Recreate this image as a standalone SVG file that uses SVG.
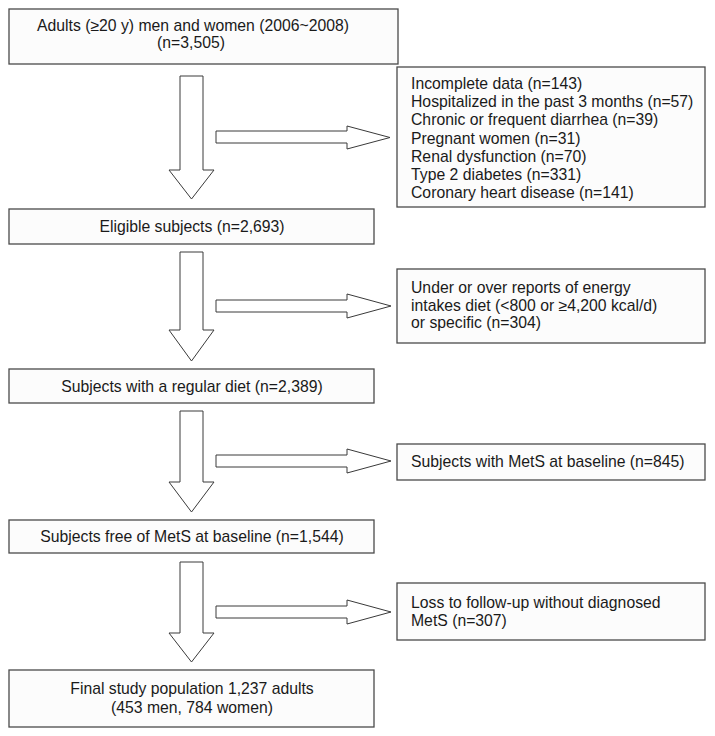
<svg xmlns="http://www.w3.org/2000/svg" width="715" height="736" viewBox="0 0 715 736">
<style>
.box{fill:#fcfcfc;stroke:#4a4a4a;stroke-width:1.3}
.arr{fill:#ffffff;stroke:#3a3a3a;stroke-width:1}
text{font-family:"Liberation Sans",Arial,sans-serif;font-size:15.75px;fill:#1a1a1a}
.c{text-anchor:middle}
</style>
<rect width="715" height="736" fill="#ffffff"/>
<g id="connectors">
<polygon class="arr" points="180,76 203,76 203,170 214,170 191.5,199 169,170 180,170"/>
<polygon class="arr" points="180,252 203,252 203,330 214,330 191.5,361 169,330 180,330"/>
<polygon class="arr" points="180,411 203,411 203,482 214,482 191.5,512 169,482 180,482"/>
<polygon class="arr" points="180,562 203,562 203,633 214,633 191.5,662 169,633 180,633"/>
<polygon class="arr" points="216,131 347,131 347,126 390,137.5 347,149 347,143 216,143"/>
<polygon class="arr" points="216,300 347,300 347,294 391,306 347,318 347,312 216,312"/>
<polygon class="arr" points="216,455 347,455 347,449 391,461 347,473 347,467 216,467"/>
<polygon class="arr" points="216,606 347,606 347,600 391,612 347,624 347,618 216,618"/>
</g>
<g id="n1"><rect class="box" x="9" y="9" width="389" height="55"/>
<text class="c" x="193" y="31">Adults (≥20 y) men and women (2006~2008)</text>
<text class="c" x="191" y="48">(n=3,505)</text></g>
<g id="n2"><rect class="box" x="9" y="209" width="365" height="35"/>
<text class="c" x="192" y="232">Eligible subjects (n=2,693)</text></g>
<g id="n3"><rect class="box" x="9" y="369" width="365" height="34"/>
<text class="c" x="192" y="391.5">Subjects with a regular diet (n=2,389)</text></g>
<g id="n4"><rect class="box" x="9" y="520" width="365" height="33"/>
<text class="c" x="192" y="542">Subjects free of MetS at baseline (n=1,544)</text></g>
<g id="n5"><rect class="box" x="9" y="670" width="365" height="57"/>
<text class="c" x="192" y="694">Final study population 1,237 adults</text>
<text class="c" x="192" y="712.5">(453 men, 784 women)</text></g>
<g id="e1"><rect class="box" x="397" y="67" width="308" height="140"/>
<text x="411" y="89">Incomplete data (n=143)</text>
<text x="411" y="107.2">Hospitalized in the past 3 months (n=57)</text>
<text x="411" y="125.3">Chronic or frequent diarrhea (n=39)</text>
<text x="411" y="143.5">Pregnant women (n=31)</text>
<text x="411" y="161.7">Renal dysfunction (n=70)</text>
<text x="411" y="179.8">Type 2 diabetes (n=331)</text>
<text x="411" y="198">Coronary heart disease (n=141)</text></g>
<g id="e2"><rect class="box" x="397" y="269" width="308" height="74"/>
<text x="411" y="293">Under or over reports of energy</text>
<text x="411" y="310.5">intakes diet (&lt;800 or ≥4,200 kcal/d)</text>
<text x="411" y="328">or specific (n=304)</text></g>
<g id="e3"><rect class="box" x="397" y="444" width="308" height="36"/>
<text x="411" y="467">Subjects with MetS at baseline (n=845)</text></g>
<g id="e4"><rect class="box" x="397" y="583" width="308" height="57"/>
<text x="411" y="608">Loss to follow-up without diagnosed</text>
<text x="411" y="626">MetS (n=307)</text></g>
</svg>
